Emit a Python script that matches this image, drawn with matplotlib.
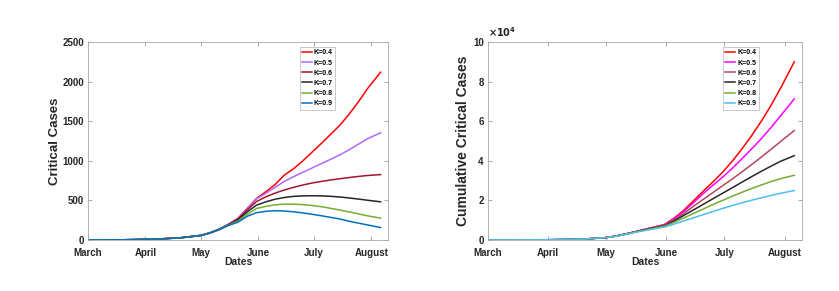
import numpy as np
import matplotlib
matplotlib.use("Agg")
import matplotlib.pyplot as plt

plt.rcParams['font.family'] = ['Liberation Sans', 'DejaVu Sans']
plt.rcParams['font.weight'] = 'bold'

# days since 1 March
days = [0, 10, 20, 31, 40, 50, 61, 66, 71, 76, 81, 86, 91, 96, 101, 106,
        111, 116, 121, 126, 131, 136, 141, 146, 151, 158]
labels = ['K=0.4', 'K=0.5', 'K=0.6', 'K=0.7', 'K=0.8', 'K=0.9']

# critical cases
crit_04 = [0, 1, 3, 8, 15, 28, 58, 92, 138, 200, 275, 400, 525, 610, 700, 820,
           900, 1000, 1110, 1220, 1335, 1450, 1590, 1745, 1915, 2120]
crit_05 = [0, 1, 3, 8, 15, 28, 58, 92, 138, 199, 272, 395, 520, 590, 665, 740,
           800, 855, 910, 965, 1020, 1075, 1140, 1210, 1280, 1355]
crit_06 = [0, 1, 3, 8, 15, 28, 58, 92, 137, 197, 265, 380, 486, 545, 592, 632,
           665, 695, 720, 740, 758, 774, 789, 803, 815, 826]
crit_07 = [0, 1, 3, 8, 15, 28, 58, 91, 136, 194, 255, 355, 440, 482, 515, 537,
           551, 557, 559, 557, 552, 543, 531, 517, 502, 482]
crit_08 = [0, 1, 3, 8, 15, 28, 57, 90, 134, 190, 240, 325, 398, 425, 444, 453,
           453, 447, 436, 421, 400, 378, 355, 330, 305, 276]
crit_09 = [0, 1, 3, 8, 15, 27, 56, 88, 131, 185, 225, 300, 345, 362, 369, 366,
           356, 342, 325, 306, 286, 265, 237, 213, 190, 157]

# cumulative critical cases (x 10^4)
cum_04 = [0, 0.002, 0.005, 0.012, 0.025, 0.05, 0.12, 0.2, 0.3, 0.42, 0.54, 0.66,
          0.78, 1.1, 1.5, 1.98, 2.46, 2.93, 3.42, 3.98, 4.6, 5.27, 6.0, 6.8, 7.68, 9.0]
cum_05 = [0, 0.002, 0.005, 0.012, 0.025, 0.05, 0.12, 0.2, 0.3, 0.42, 0.54, 0.65,
          0.76, 1.07, 1.44, 1.88, 2.34, 2.76, 3.17, 3.62, 4.1, 4.6, 5.12, 5.68, 6.28, 7.13]
cum_06 = [0, 0.002, 0.005, 0.012, 0.025, 0.05, 0.12, 0.2, 0.3, 0.42, 0.53, 0.64,
          0.74, 1.01, 1.34, 1.7, 2.05, 2.39, 2.74, 3.08, 3.44, 3.81, 4.19, 4.58, 4.98, 5.53]
cum_07 = [0, 0.002, 0.005, 0.012, 0.025, 0.05, 0.12, 0.2, 0.3, 0.41, 0.52, 0.62,
          0.71, 0.96, 1.24, 1.52, 1.8, 2.08, 2.36, 2.64, 2.92, 3.2, 3.47, 3.73, 3.98, 4.26]
cum_08 = [0, 0.002, 0.005, 0.012, 0.025, 0.05, 0.12, 0.2, 0.29, 0.4, 0.5, 0.6,
          0.69, 0.89, 1.11, 1.34, 1.56, 1.79, 2.0, 2.21, 2.41, 2.6, 2.78, 2.95, 3.1, 3.27]
cum_09 = [0, 0.002, 0.005, 0.012, 0.025, 0.05, 0.12, 0.19, 0.28, 0.39, 0.48, 0.57,
          0.65, 0.8, 0.96, 1.12, 1.28, 1.44, 1.59, 1.74, 1.88, 2.01, 2.13, 2.25, 2.36, 2.5]

month_days = [0, 31, 61, 92, 122, 153]
month_names = ['March', 'April', 'May', 'June', 'July', 'August']

colors_left = ['#ff0000', '#b266ff', '#a2142f', '#262626', '#77ac30', '#0072bd']
colors_right = ['#ff0000', '#ff00ff', '#b0485a', '#262626', '#77ac30', '#4dbeee']

fig = plt.figure(figsize=(8.39, 2.91), dpi=100)
ax1 = fig.add_axes([0.1049, 0.1753, 0.3576, 0.680])
ax2 = fig.add_axes([0.5816, 0.1753, 0.3743, 0.680])

crit = [crit_04, crit_05, crit_06, crit_07, crit_08, crit_09]
cum = [cum_04, cum_05, cum_06, cum_07, cum_08, cum_09]

for y, c, lab in zip(crit, colors_left, labels):
    ax1.plot(days, y, color=c, lw=1.1, label=lab)
for y, c, lab in zip(cum, colors_right, labels):
    ax2.plot(days, y, color=c, lw=1.1, label=lab)

ax1.set_ylim(0, 2500)
ax1.set_yticks([0, 500, 1000, 1500, 2000, 2500])
ax2.set_ylim(0, 10)
ax2.set_yticks([0, 2, 4, 6, 8, 10])

for ax in (ax1, ax2):
    ax.set_xlim(0, 162)
    ax.set_xticks(month_days)
    ax.set_xticklabels(month_names)
    ax.tick_params(direction='in', length=3, width=0.6, color='#9a9a9a',
                   top=True, right=True, labelsize=7, labelcolor='#262626')
    ax.tick_params(axis='x', pad=6)
    ax.tick_params(axis='y', pad=3)
    for lb in ax.get_xticklabels() + ax.get_yticklabels():
        lb.set_fontweight('bold')
    for s in ax.spines.values():
        s.set_color('#a8a8a8')
        s.set_linewidth(0.6)
    ax.set_xlabel('Dates', fontsize=7.5, fontweight='bold', color='#262626', labelpad=-1)

ax1.set_ylabel('Critical Cases', fontsize=9.5, fontweight='bold', color='#262626', labelpad=1)
ax2.set_ylabel('Cumulative Critical Cases', fontsize=10, fontweight='bold', color='#262626', labelpad=2)
ax2.text(0.0, 1.015, r'$\times10^{4}$', transform=ax2.transAxes, fontsize=7,
         color='#262626', ha='left', va='bottom')

leg_kw = dict(fontsize=5, frameon=True, fancybox=False, handlelength=1.4,
              handletextpad=0.3, labelspacing=0.45, borderpad=0.35, borderaxespad=0)
leg1 = ax1.legend(loc='upper left', bbox_to_anchor=(0.705, 0.975), **leg_kw)
leg2 = ax2.legend(loc='upper left', bbox_to_anchor=(0.748, 0.975), **leg_kw)
for leg in (leg1, leg2):
    leg.get_frame().set_edgecolor('#b0b0b0')
    leg.get_frame().set_linewidth(0.6)
    for t in leg.get_texts():
        t.set_fontweight('bold')

fig.savefig('out.png', dpi=100)
